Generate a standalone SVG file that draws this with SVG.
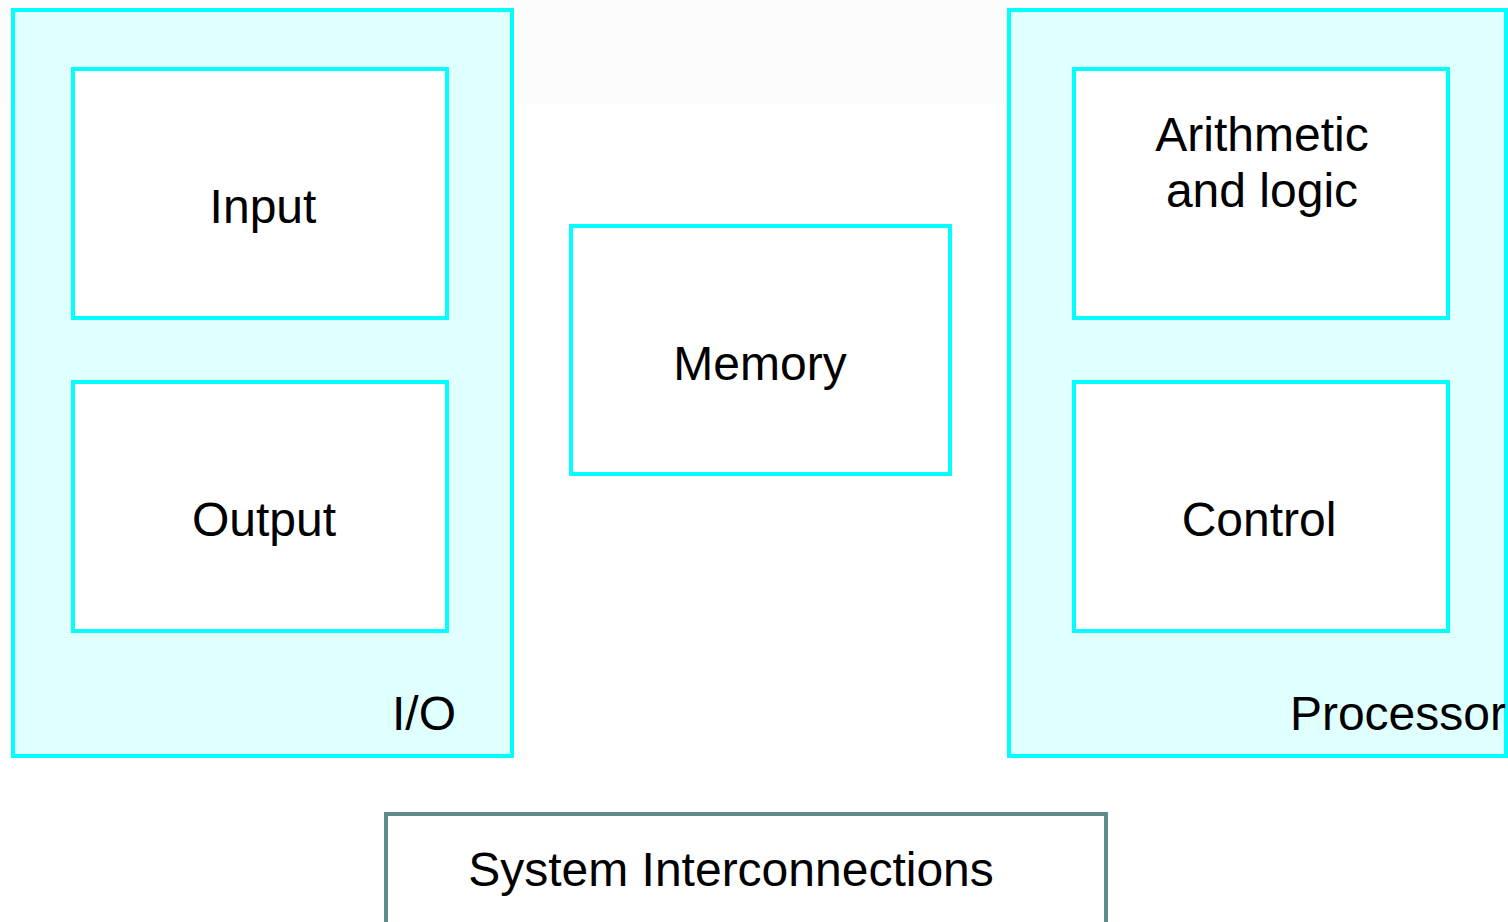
<svg xmlns="http://www.w3.org/2000/svg" width="1508" height="922" viewBox="0 0 1508 922">
<style>
.t{font-family:"Liberation Sans",Arial,sans-serif;font-size:48px;fill:#000}
.outer{fill:#e0ffff;stroke:#00ffff;stroke-width:4}
.inner{fill:#fff;stroke:#00ffff;stroke-width:4}
.bus{fill:#fff;stroke:#5f8a8b;stroke-width:4}
</style>
<rect x="0" y="0" width="1508" height="922" fill="#fff"/>
<rect x="0" y="0" width="1508" height="104" fill="#fcfcfc"/>
<g id="io">
<rect class="outer" x="13" y="10" width="499" height="746"/>
<text class="t" x="456" y="730" text-anchor="end">I/O</text>
</g>
<g id="input">
<rect class="inner" x="73" y="69" width="374" height="249"/>
<text class="t" x="263" y="223" text-anchor="middle">Input</text>
</g>
<g id="output">
<rect class="inner" x="73" y="382" width="374" height="249"/>
<text class="t" x="264" y="536" text-anchor="middle">Output</text>
</g>
<g id="memory">
<rect class="inner" x="571" y="226" width="379" height="248"/>
<text class="t" x="760" y="380" text-anchor="middle">Memory</text>
</g>
<g id="processor">
<rect class="outer" x="1009" y="10" width="497" height="746"/>
<text class="t" x="1506" y="730" text-anchor="end">Processor</text>
</g>
<g id="alu">
<rect class="inner" x="1074" y="69" width="374" height="249"/>
<text class="t" x="1262" y="151" text-anchor="middle">Arithmetic</text>
<text class="t" x="1262" y="207" text-anchor="middle">and logic</text>
</g>
<g id="control">
<rect class="inner" x="1074" y="382" width="374" height="249"/>
<text class="t" x="1259" y="536" text-anchor="middle">Control</text>
</g>
<g id="interconnections">
<rect class="bus" x="386" y="814" width="720" height="130"/>
<text class="t" x="731" y="886" text-anchor="middle">System Interconnections</text>
</g>
<g id="connectors"></g>
</svg>
